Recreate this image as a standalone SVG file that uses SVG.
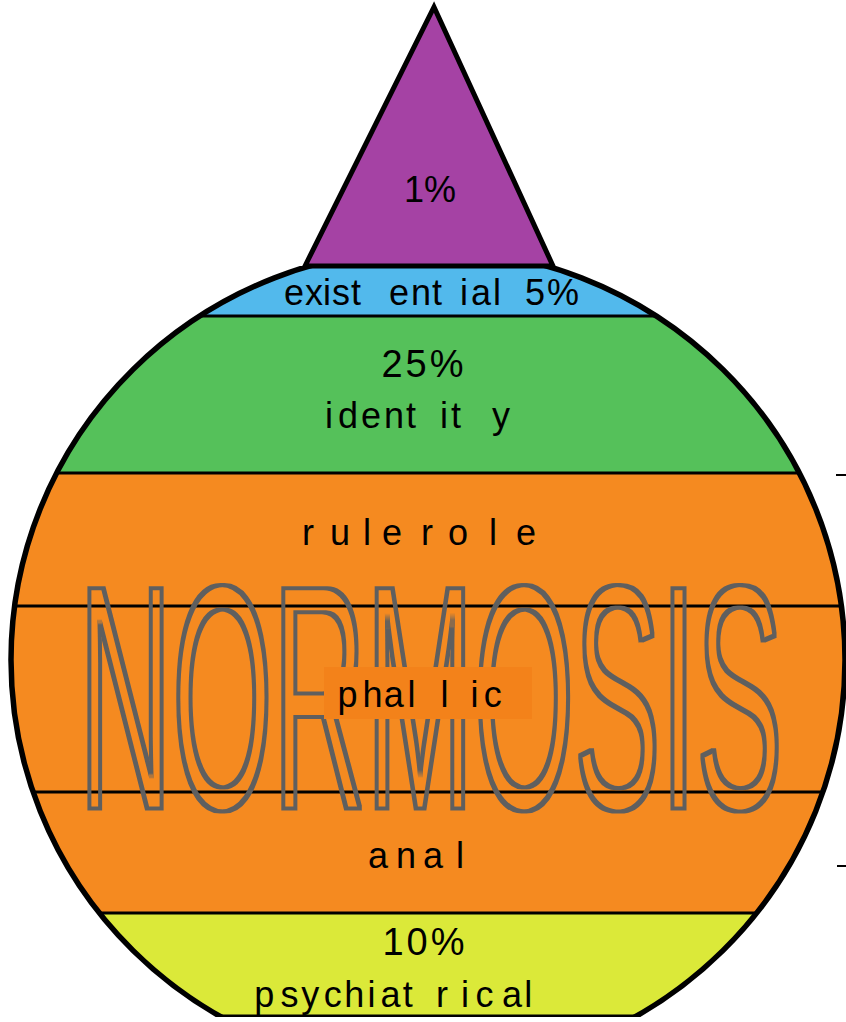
<svg xmlns="http://www.w3.org/2000/svg" width="846" height="1022" viewBox="0 0 846 1022">
<style>
.lbl{font-family:"Liberation Sans",Arial,sans-serif;font-size:36px;fill:#000}
.sep{stroke:#000;stroke-width:3.2;fill:none}
.big{font-family:"Liberation Sans",Arial,sans-serif;font-size:320px;fill:#5f5f5f}
</style>
<defs>
<clipPath id="ell"><ellipse cx="428" cy="660" rx="417" ry="411"/></clipPath>
<clipPath id="strip"><rect x="0" y="266" width="846" height="751"/></clipPath>
<filter id="outline" x="0" y="0" width="846" height="1022" filterUnits="userSpaceOnUse">
<feMorphology in="SourceAlpha" operator="dilate" radius="1.8" result="d"/>
<feMorphology in="SourceAlpha" operator="erode" radius="1.8" result="e"/>
<feComposite in="d" in2="e" operator="out" result="ring"/>
<feFlood flood-color="#5f5f5f"/>
<feComposite in2="ring" operator="in"/>
</filter>
</defs>
<rect width="846" height="1022" fill="#fff"/>
<g clip-path="url(#strip)">
<g clip-path="url(#ell)">
<g id="band-existential"><rect x="0" y="266" width="846" height="50" fill="#52B9EC"/></g>
<g id="band-identity"><rect x="0" y="316" width="846" height="157" fill="#55C15A"/></g>
<g id="band-normosis"><rect x="0" y="473" width="846" height="440" fill="#F58A20"/></g>
<g id="band-psychiatrical"><rect x="0" y="913" width="846" height="104" fill="#DBE939"/></g>
<g id="separators">
<line class="sep" x1="0" y1="316" x2="846" y2="316"/>
<line class="sep" x1="0" y1="473" x2="846" y2="473"/>
<line class="sep" x1="0" y1="606" x2="846" y2="606"/>
<line class="sep" x1="0" y1="792" x2="846" y2="792"/>
<line class="sep" x1="0" y1="913" x2="846" y2="913"/>
<line x1="0" y1="1017" x2="846" y2="1017" stroke="#000" stroke-width="5"/>
</g>
<g id="normosis-title" filter="url(#outline)"><text class="big" transform="translate(78.8 808.5) scale(0.404 1)" x="0" y="0">NORMOSIS</text></g>
</g>
<ellipse cx="428" cy="660" rx="417" ry="411" fill="none" stroke="#000" stroke-width="5.5"/>
</g>
<g id="apex">
<polygon points="305,266 434,7 553,266" fill="#A542A4" stroke="#000" stroke-width="5" stroke-linejoin="miter"/>
<text class="lbl" x="404" y="202">1%</text>
</g>
<g id="labels">
<text class="lbl" x="284 305 323 332 351 389 411 432 460 471 493 502 525 547" y="305">existential 5%</text>
<text class="lbl" x="424" y="377" text-anchor="middle" style="font-size:38px;letter-spacing:3px">25%</text>
<text class="lbl" x="325 338 361 384 406 440 451 492" y="428">identity</text>
<text class="lbl" x="302 330 363 382 421 448 489 516" y="545">rulerole</text>
<rect x="324" y="667" width="208" height="52" fill="#F3821A"/>
<text class="lbl" x="337.6 362.6 383.7 407.6 440.6 470.6 483.7" y="707">phallic</text>
<text class="lbl" x="368 396 423 456" y="868">anal</text>
<text class="lbl" x="425" y="955" text-anchor="middle" style="font-size:38px;letter-spacing:3px">10%</text>
<text class="lbl" x="254.3 280.6 301.3 323.7 344.3 367.6 380.4 402.7 435.9 460.9 475.4 502 524.3" y="1007">psychiatrical</text>
</g>
<g id="ticks">
<line x1="836" y1="475" x2="846" y2="475" stroke="#000" stroke-width="2"/>
<line x1="837" y1="866" x2="846" y2="866" stroke="#000" stroke-width="2"/>
</g>
</svg>
